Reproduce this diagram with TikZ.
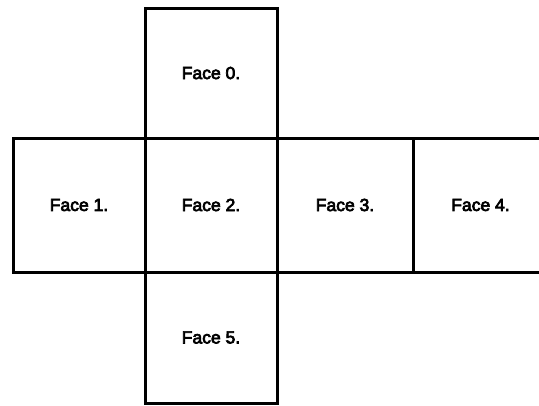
\documentclass[tikz,border=0pt]{standalone}
\usepackage{fontspec}
\setmainfont{Liberation Sans}[BoldFont={Liberation Sans}, BoldFeatures={FakeBold=4}]
\tikzset{
  face/.style={draw, line width=3pt, inner sep=0pt, font=\fontsize{17.5}{20}\selectfont\bfseries},
}
\begin{document}
\begin{tikzpicture}[x=1pt,y=-1pt]
\useasboundingbox (0,0) rectangle (539,405);
\clip (0,0) rectangle (539,405);
\node[face, minimum width=132pt, minimum height=130pt] (face0) at (211,73) {Face 0.};
\node[face, minimum width=132pt, minimum height=134pt] (face1) at (79,205) {Face 1.};
\node[face, minimum width=132pt, minimum height=134pt] (face2) at (211,205) {Face 2.};
\node[face, minimum width=136pt, minimum height=134pt] (face3) at (345,205) {Face 3.};
\node[face, minimum width=135pt, minimum height=134pt] (face4) at (480.5,205) {Face 4.};
\node[face, minimum width=132pt, minimum height=131pt] (face5) at (211,337.5) {Face 5.};
\end{tikzpicture}
\end{document}
